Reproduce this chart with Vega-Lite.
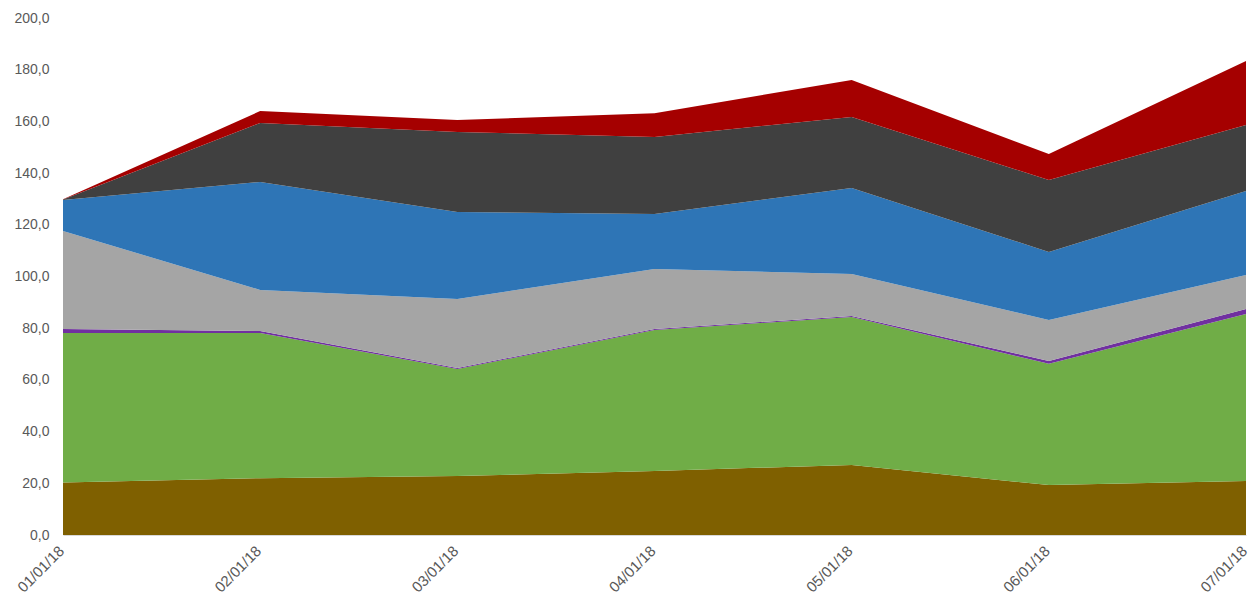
{
  "$schema": "https://vega.github.io/schema/vega-lite/v6.json",
  "autosize": {"type": "none"},
  "width": 1183,
  "height": 517,
  "padding": {"left": 63, "top": 18, "right": 3, "bottom": 72},
  "background": "white",
  "config": {"view": {"stroke": null}, "font": "Liberation Sans"},
  "data": {
    "values": [
      {"date": "01/01/18", "series": "A", "ord": 1, "value": 20.3},
      {"date": "02/01/18", "series": "A", "ord": 1, "value": 22.0},
      {"date": "03/01/18", "series": "A", "ord": 1, "value": 22.8},
      {"date": "04/01/18", "series": "A", "ord": 1, "value": 24.8},
      {"date": "05/01/18", "series": "A", "ord": 1, "value": 27.1},
      {"date": "06/01/18", "series": "A", "ord": 1, "value": 19.3},
      {"date": "07/01/18", "series": "A", "ord": 1, "value": 20.9},
      {"date": "01/01/18", "series": "B", "ord": 2, "value": 57.8},
      {"date": "02/01/18", "series": "B", "ord": 2, "value": 56.1},
      {"date": "03/01/18", "series": "B", "ord": 2, "value": 41.4},
      {"date": "04/01/18", "series": "B", "ord": 2, "value": 54.5},
      {"date": "05/01/18", "series": "B", "ord": 2, "value": 57.2},
      {"date": "06/01/18", "series": "B", "ord": 2, "value": 46.9},
      {"date": "07/01/18", "series": "B", "ord": 2, "value": 64.6},
      {"date": "01/01/18", "series": "C", "ord": 3, "value": 1.6},
      {"date": "02/01/18", "series": "C", "ord": 3, "value": 0.8},
      {"date": "03/01/18", "series": "C", "ord": 3, "value": 0.4},
      {"date": "04/01/18", "series": "C", "ord": 3, "value": 0.4},
      {"date": "05/01/18", "series": "C", "ord": 3, "value": 0.4},
      {"date": "06/01/18", "series": "C", "ord": 3, "value": 1.1},
      {"date": "07/01/18", "series": "C", "ord": 3, "value": 1.9},
      {"date": "01/01/18", "series": "D", "ord": 4, "value": 37.9},
      {"date": "02/01/18", "series": "D", "ord": 4, "value": 15.9},
      {"date": "03/01/18", "series": "D", "ord": 4, "value": 26.7},
      {"date": "04/01/18", "series": "D", "ord": 4, "value": 23.2},
      {"date": "05/01/18", "series": "D", "ord": 4, "value": 16.3},
      {"date": "06/01/18", "series": "D", "ord": 4, "value": 15.9},
      {"date": "07/01/18", "series": "D", "ord": 4, "value": 13.2},
      {"date": "01/01/18", "series": "E", "ord": 5, "value": 12.0},
      {"date": "02/01/18", "series": "E", "ord": 5, "value": 41.8},
      {"date": "03/01/18", "series": "E", "ord": 5, "value": 33.7},
      {"date": "04/01/18", "series": "E", "ord": 5, "value": 21.3},
      {"date": "05/01/18", "series": "E", "ord": 5, "value": 33.2},
      {"date": "06/01/18", "series": "E", "ord": 5, "value": 26.3},
      {"date": "07/01/18", "series": "E", "ord": 5, "value": 32.5},
      {"date": "01/01/18", "series": "F", "ord": 6, "value": 0.2},
      {"date": "02/01/18", "series": "F", "ord": 6, "value": 22.8},
      {"date": "03/01/18", "series": "F", "ord": 6, "value": 30.9},
      {"date": "04/01/18", "series": "F", "ord": 6, "value": 29.8},
      {"date": "05/01/18", "series": "F", "ord": 6, "value": 27.5},
      {"date": "06/01/18", "series": "F", "ord": 6, "value": 27.8},
      {"date": "07/01/18", "series": "F", "ord": 6, "value": 25.5},
      {"date": "01/01/18", "series": "G", "ord": 7, "value": 0.1},
      {"date": "02/01/18", "series": "G", "ord": 7, "value": 4.6},
      {"date": "03/01/18", "series": "G", "ord": 7, "value": 4.6},
      {"date": "04/01/18", "series": "G", "ord": 7, "value": 9.2},
      {"date": "05/01/18", "series": "G", "ord": 7, "value": 14.3},
      {"date": "06/01/18", "series": "G", "ord": 7, "value": 10.1},
      {"date": "07/01/18", "series": "G", "ord": 7, "value": 24.8}
    ]
  },
  "mark": {"type": "area", "opacity": 1},
  "encoding": {
    "x": {
      "field": "date",
      "type": "ordinal",
      "sort": null,
      "scale": {"type": "point", "padding": 0},
      "axis": {
        "title": null,
        "labelAngle": -45,
        "labelAlign": "right",
        "labelBaseline": "middle",
        "labelFontSize": 15,
        "labelColor": "#595959",
        "labelPadding": 13,
        "labelOffset": -2,
        "ticks": false,
        "domainColor": "#D9D9D9",
        "domainWidth": 1,
        "grid": false
      }
    },
    "y": {
      "field": "value",
      "type": "quantitative",
      "stack": "zero",
      "scale": {"domain": [0, 200], "nice": false},
      "axis": {
        "title": null,
        "values": [0, 20, 40, 60, 80, 100, 120, 140, 160, 180, 200],
        "labelExpr": "replace(format(datum.value, '.1f'), '.', ',')",
        "labelFontSize": 14,
        "labelColor": "#595959",
        "labelPadding": 14,
        "ticks": false,
        "domain": false,
        "grid": false
      }
    },
    "color": {
      "field": "series",
      "type": "nominal",
      "scale": {
        "domain": ["A", "B", "C", "D", "E", "F", "G"],
        "range": ["#7F6000", "#70AD47", "#7030A0", "#A5A5A5", "#2E75B6", "#404040", "#A50000"]
      },
      "legend": null
    },
    "order": {"field": "ord", "type": "quantitative"}
  }
}
